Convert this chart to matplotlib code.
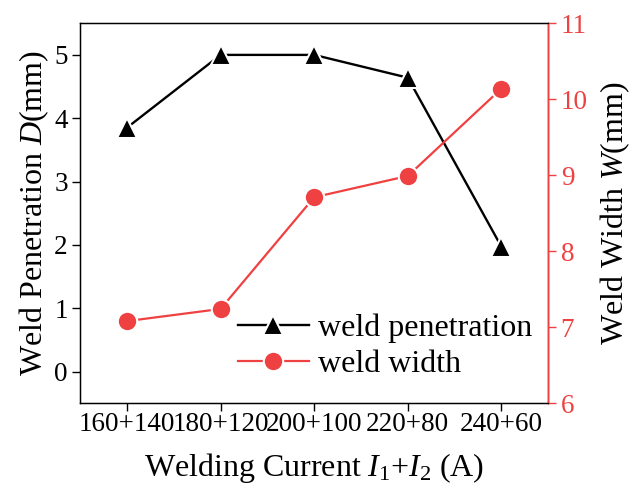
import matplotlib
matplotlib.use("Agg")
import matplotlib.pyplot as plt

plt.rcParams['font.family'] = ['Liberation Serif', 'DejaVu Serif']
plt.rcParams['mathtext.fontset'] = 'custom'
plt.rcParams['mathtext.rm'] = 'Liberation Serif'
plt.rcParams['mathtext.it'] = 'Liberation Serif:italic'

currents = ["160+140", "180+120", "200+100", "220+80", "240+60"]
penetration = [3.85, 5.0, 5.0, 4.64, 1.97]
width = [7.08, 7.24, 8.71, 8.99, 10.14]

red = '#EF4142'
x = list(range(len(currents)))

fig = plt.figure(figsize=(6.36, 4.84), dpi=100)
ax = fig.add_axes([0.126, 0.167, 0.736, 0.785])
ax2 = ax.twinx()

l1, = ax.plot(x, penetration, color='black', lw=1.7, marker='^', ms=14.5,
              mec='white', mew=1.5, label='weld penetration')
l2, = ax2.plot(x, width, color=red, lw=1.6, marker='o', ms=14,
               mec='white', mew=1.5, label='weld width')

ax.set_xlim(-0.5, 4.5)
ax.set_ylim(-0.5, 5.5)
ax2.set_ylim(6, 11)
ax.set_xticks(x)
ax.set_xticklabels(currents)
ax.set_yticks([0, 1, 2, 3, 4, 5])
ax2.set_yticks([6, 7, 8, 9, 10, 11])

ax.tick_params(axis='both', labelsize=19.5, direction='out', length=5.5, width=1)
ax.tick_params(axis='x', pad=1)
ax2.tick_params(axis='y', labelsize=19.5, colors=red, direction='out', length=5.5, width=1)
ax2.spines['right'].set_color(red)
for s in ax.spines.values():
    s.set_linewidth(1)
ax2.spines['right'].set_linewidth(1)

ax.set_xlabel(r'Welding Current $I_1$+$I_2$ (A)', fontsize=23, labelpad=10)
ax.set_ylabel(r'Weld Penetration $D$(mm)', fontsize=23, labelpad=2)
ax2.set_ylabel(r'Weld Width $W$(mm)', fontsize=23, labelpad=8)

ax2.legend([l1, l2], ['weld penetration', 'weld width'], frameon=False,
           fontsize=23, handlelength=2.2, handletextpad=0.3, labelspacing=0.2,
           borderpad=0, borderaxespad=0,
           loc='center left', bbox_to_anchor=(0.338, 0.149))

fig.savefig('out.png', dpi=100)
